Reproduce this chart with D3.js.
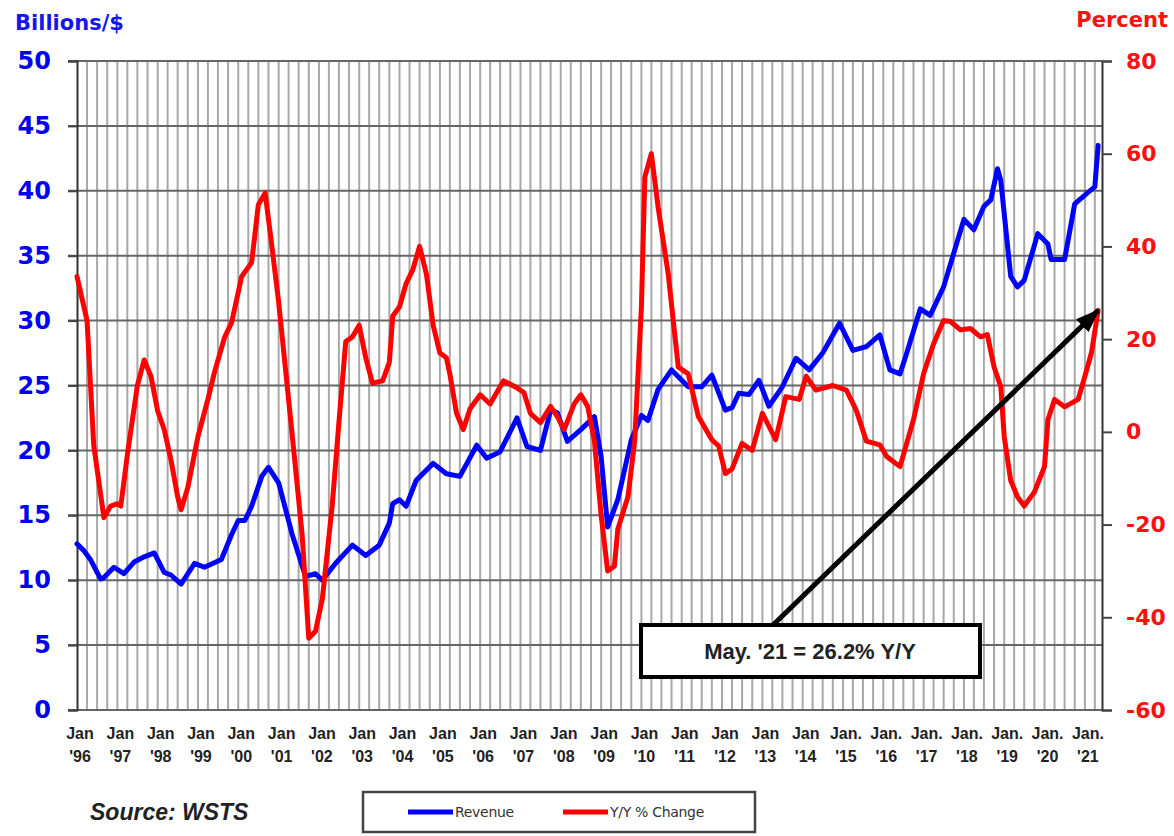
<!DOCTYPE html>
<html>
<head>
<meta charset="utf-8">
<script src="https://cdn.jsdelivr.net/npm/d3@7"></script>
<style>
  body { margin: 0; background: #fff; }
  svg { display: block; }
  .ytick text { font-family: "DejaVu Sans", sans-serif; font-weight: bold; }
  .xlab { font-family: "Liberation Sans", Arial, sans-serif; font-weight: bold; font-size: 16px; fill: #222; }
</style>
</head>
<body>
<svg id="chart" width="1174" height="836"></svg>
<script>
// revenue, billions of $
var revDates = ["1996-01","1996-03","1996-05","1996-08","1996-09","1996-12","1997-03","1997-06","1997-09","1997-12",
  "1998-03","1998-05","1998-08","1998-12","1999-03","1999-08","1999-11","2000-01","2000-03","2000-05",
  "2000-08","2000-10","2001-01","2001-05","2001-09","2001-12","2002-02","2002-06","2002-11","2003-03",
  "2003-07","2003-10","2003-11","2004-01","2004-03","2004-06","2004-11","2005-03","2005-07","2005-12",
  "2006-03","2006-07","2006-12","2007-03","2007-07","2007-10","2007-12","2008-03","2008-07","2008-11",
  "2009-01","2009-03","2009-06","2009-10","2010-01","2010-03","2010-06","2010-10","2011-03","2011-07",
  "2011-10","2012-02","2012-04","2012-06","2012-09","2012-12","2013-03","2013-07","2013-11","2014-03",
  "2014-07","2014-12","2015-04","2015-08","2015-12","2016-03","2016-06","2016-08","2016-12","2017-03",
  "2017-07","2018-01","2018-04","2018-07","2018-09","2018-11","2018-12","2019-03","2019-05","2019-07",
  "2019-11","2020-02","2020-03","2020-07","2020-10","2021-02","2021-04","2021-05"];
var revValues = [12.8,12.3,11.6,10.1,10.2,11.0,10.5,11.4,11.8,12.1,
  10.6,10.4,9.7,11.3,11.0,11.6,13.5,14.6,14.6,15.7,
  18.0,18.7,17.5,13.6,10.3,10.5,10.0,11.3,12.7,11.9,
  12.7,14.4,15.9,16.2,15.7,17.7,19.0,18.2,18.0,20.4,
  19.4,19.9,22.5,20.3,20.0,23.1,22.9,20.7,21.6,22.6,
  19.5,14.1,16.2,20.8,22.7,22.3,24.7,26.2,24.9,24.9,
  25.8,23.1,23.3,24.4,24.3,25.4,23.4,24.9,27.1,26.2,
  27.5,29.8,27.7,28.0,28.9,26.2,25.9,27.5,30.9,30.4,
  32.6,37.8,37.0,38.8,39.3,41.7,40.8,33.4,32.6,33.1,
  36.7,35.9,34.7,34.7,39.0,39.9,40.3,43.5];

// year-over-year change, percent
var yoyDates = ["1996-01","1996-04","1996-06","1996-09","1996-11","1997-01","1997-02","1997-04","1997-07","1997-09",
  "1997-11","1998-01","1998-03","1998-05","1998-07","1998-08","1998-10","1999-01","1999-04","1999-06",
  "1999-09","1999-11","2000-02","2000-05","2000-07","2000-09","2000-11","2001-01","2001-05","2001-08",
  "2001-10","2001-12","2002-02","2002-05","2002-07","2002-09","2002-11","2003-01","2003-03","2003-05",
  "2003-08","2003-10","2003-11","2004-01","2004-03","2004-05","2004-07","2004-09","2004-11","2005-01",
  "2005-03","2005-04","2005-06","2005-08","2005-10","2006-01","2006-04","2006-08","2006-12","2007-02",
  "2007-04","2007-07","2007-10","2007-12","2008-02","2008-05","2008-07","2008-09","2008-11","2009-01",
  "2009-03","2009-05","2009-06","2009-09","2009-11","2010-01","2010-02","2010-04","2010-06","2010-09",
  "2010-12","2011-03","2011-06","2011-10","2011-12","2012-02","2012-04","2012-07","2012-10","2013-01",
  "2013-05","2013-08","2013-12","2014-02","2014-05","2014-10","2015-02","2015-05","2015-08","2015-12",
  "2016-02","2016-06","2016-10","2017-01","2017-04","2017-07","2017-09","2017-12","2018-03","2018-06",
  "2018-08","2018-10","2018-12","2019-01","2019-03","2019-05","2019-07","2019-10","2020-01","2020-02",
  "2020-04","2020-07","2020-11","2021-01","2021-03","2021-05"];
var yoyValues = [33.5,24,-3,-18.5,-16,-15.5,-16,-5,10,15.5,
  12,4.5,0.5,-6,-14,-16.8,-12,-1,7,13,
  20.5,23.5,33.5,36.5,49,51.5,40,28,0,-22,
  -44.5,-43,-36,-16,2,19.5,20.5,23,16,10.5,
  11,15,25,27,32,35,40,34,23,17,
  16,12.5,4,0.5,5,8,6,11,9.5,8.5,
  4,2,5.5,3.3,0.5,6,8,5.5,-2,-18,
  -30,-29,-21,-14,-2,27,55,60,48.5,34,
  14,12.5,3.3,-1.7,-3,-9,-8,-2.5,-4,4,
  -1.7,7.6,7,12,9,10,9,4.7,-2,-2.8,
  -5.3,-7.5,2.6,12.6,19,24,23.8,22,22.3,20.5,
  21,14,9.7,-1,-10.5,-14,-16,-13,-7.5,2.6,
  7,5.4,7,12,17,26.2];

var revTicks = [0,5,10,15,20,25,30,35,40,45,50];
var yoyTicks = [-60,-40,-20,0,20,40,60,80];
var yearLabels = ["'96","'97","'98","'99","'00","'01","'02","'03","'04","'05","'06","'07","'08",
  "'09","'10","'11","'12","'13","'14","'15","'16","'17","'18","'19","'20","'21"];
var monthLabels = ["Jan","Jan","Jan","Jan","Jan","Jan","Jan","Jan","Jan","Jan","Jan","Jan","Jan",
  "Jan","Jan","Jan","Jan","Jan","Jan","Jan.","Jan.","Jan.","Jan.","Jan.","Jan.","Jan."];
var noteText = "May. '21 = 26.2% Y/Y";

var parse = d3.timeParse("%Y-%m");
var rev = revDates.map(function(d, i) { return {date: parse(d), v: revValues[i]}; });
var yoy = yoyDates.map(function(d, i) { return {date: parse(d), v: yoyValues[i]}; });

var plotL = 77, plotR = 1102, plotT = 61, plotB = 710;
var x = d3.scaleTime().domain([new Date(1996, 0, 1), new Date(2021, 5, 5)]).range([plotL, plotR]);
var yL = d3.scaleLinear().domain([0, 50]).range([plotB, plotT]);
var yR = d3.scaleLinear().domain([-60, 80]).range([plotB, plotT]);

var svg = d3.select("#chart");
svg.append("rect").attr("width", 1174).attr("height", 836).attr("fill", "#fff");

// quarterly vertical grid
var quarters = d3.timeMonth.every(3).range(new Date(1996, 3, 1), new Date(2021, 5, 1));
svg.append("g").selectAll("line").data(quarters).join("line")
  .attr("x1", function(d) { return x(d); }).attr("x2", function(d) { return x(d); })
  .attr("y1", plotT).attr("y2", plotB)
  .attr("stroke", "#a8a8a8").attr("stroke-width", 2);

// horizontal grid at the billions ticks
svg.append("g").selectAll("line").data(revTicks).join("line")
  .attr("x1", plotL - 9).attr("x2", plotR)
  .attr("y1", function(d) { return yL(d); }).attr("y2", function(d) { return yL(d); })
  .attr("stroke", "#666").attr("stroke-width", 2);

// left axis
var gL = svg.append("g").attr("class", "ytick").attr("transform", "translate(" + plotL + ",0)")
  .call(d3.axisLeft(yL).tickValues(revTicks).tickSize(9).tickPadding(17));
gL.select(".domain").attr("stroke", "#333").attr("stroke-width", 2);
gL.selectAll(".tick line").attr("stroke", "#444").attr("stroke-width", 2);
gL.selectAll(".tick text").attr("fill", "#0000ee").style("font-size", "24px");

// right axis (plain hyphen for negatives)
var gR = svg.append("g").attr("class", "ytick").attr("transform", "translate(" + plotR + ",0)")
  .call(d3.axisRight(yR).tickValues(yoyTicks).tickSize(10).tickPadding(14)
    .tickFormat(function(d) { return String(d); }));
gR.select(".domain").attr("stroke", "#333").attr("stroke-width", 2);
gR.selectAll(".tick line").attr("stroke", "#444").attr("stroke-width", 2);
gR.selectAll(".tick text").attr("fill", "#ff1010").style("font-size", "22px");

// x labels, two lines each
var jans = d3.range(1996, 2022).map(function(y) { return new Date(y, 0, 1); });
var xl = svg.append("g").selectAll("text").data(jans).join("text")
  .attr("class", "xlab").attr("text-anchor", "middle")
  .attr("x", function(d) { return x(d) + 3; }).attr("y", 739);
xl.append("tspan").text(function(d, i) { return monthLabels[i]; });
xl.append("tspan").attr("x", function(d) { return x(d) + 3; }).attr("y", 762)
  .text(function(d, i) { return yearLabels[i]; });

// axis titles
svg.append("text").attr("x", 15).attr("y", 30).text("Billions/$")
  .style("font-family", "DejaVu Sans").style("font-weight", "bold").style("font-size", "21px").attr("fill", "#1515f0");
svg.append("text").attr("x", 1168).attr("y", 27).attr("text-anchor", "end").text("Percent")
  .style("font-family", "DejaVu Sans").style("font-weight", "bold").style("font-size", "21px").attr("fill", "#ff1010");

// lines
var lineL = d3.line().x(function(d) { return x(d.date); }).y(function(d) { return yL(d.v); });
var lineR = d3.line().x(function(d) { return x(d.date); }).y(function(d) { return yR(d.v); });
svg.append("path").datum(rev).attr("d", lineL).attr("fill", "none")
  .attr("stroke", "#0000ff").attr("stroke-width", 5).attr("stroke-linejoin", "round").attr("stroke-linecap", "round");
svg.append("path").datum(yoy).attr("d", lineR).attr("fill", "none")
  .attr("stroke", "#ff0000").attr("stroke-width", 5).attr("stroke-linejoin", "round").attr("stroke-linecap", "round");

// annotation arrow + box
svg.append("defs").append("marker").attr("id", "arrow")
  .attr("markerUnits", "userSpaceOnUse").attr("markerWidth", 24).attr("markerHeight", 18)
  .attr("refX", 22).attr("refY", 9).attr("orient", "auto")
  .append("path").attr("d", "M0,0 L24,9 L0,18 Z").attr("fill", "#000");
var last = yoy[yoy.length - 1];
svg.append("line").attr("x1", 773).attr("y1", 625)
  .attr("x2", x(last.date)).attr("y2", yR(last.v))
  .attr("stroke", "#000").attr("stroke-width", 5).attr("marker-end", "url(#arrow)");
svg.append("rect").attr("x", 641).attr("y", 625).attr("width", 339).attr("height", 52)
  .attr("fill", "#fff").attr("stroke", "#000").attr("stroke-width", 4);
svg.append("text").attr("x", 810).attr("y", 659).attr("text-anchor", "middle").text(noteText)
  .style("font-family", "Liberation Sans").style("font-weight", "bold").style("font-size", "22px").attr("fill", "#222");

// source
svg.append("text").attr("x", 90).attr("y", 820).text("Source: WSTS")
  .style("font-family", "Liberation Sans").style("font-weight", "bold").style("font-style", "italic")
  .style("font-size", "23px").attr("fill", "#222");

// legend
var lg = svg.append("g");
lg.append("rect").attr("x", 363).attr("y", 792).attr("width", 392).attr("height", 40)
  .attr("fill", "#fff").attr("stroke", "#444").attr("stroke-width", 2.5);
var legendItems = [{name: "Revenue", color: "#0000ff", x: 408}, {name: "Y/Y % Change", color: "#ff0000", x: 563}];
legendItems.forEach(function(it) {
  lg.append("line").attr("x1", it.x).attr("x2", it.x + 45).attr("y1", 812).attr("y2", 812)
    .attr("stroke", it.color).attr("stroke-width", 5);
  lg.append("text").attr("x", it.x + 47).attr("y", 817).text(it.name)
    .style("font-family", "DejaVu Sans").style("font-size", "14px").style("letter-spacing", "-0.3px").attr("fill", "#333");
});
</script>
</body>
</html>
